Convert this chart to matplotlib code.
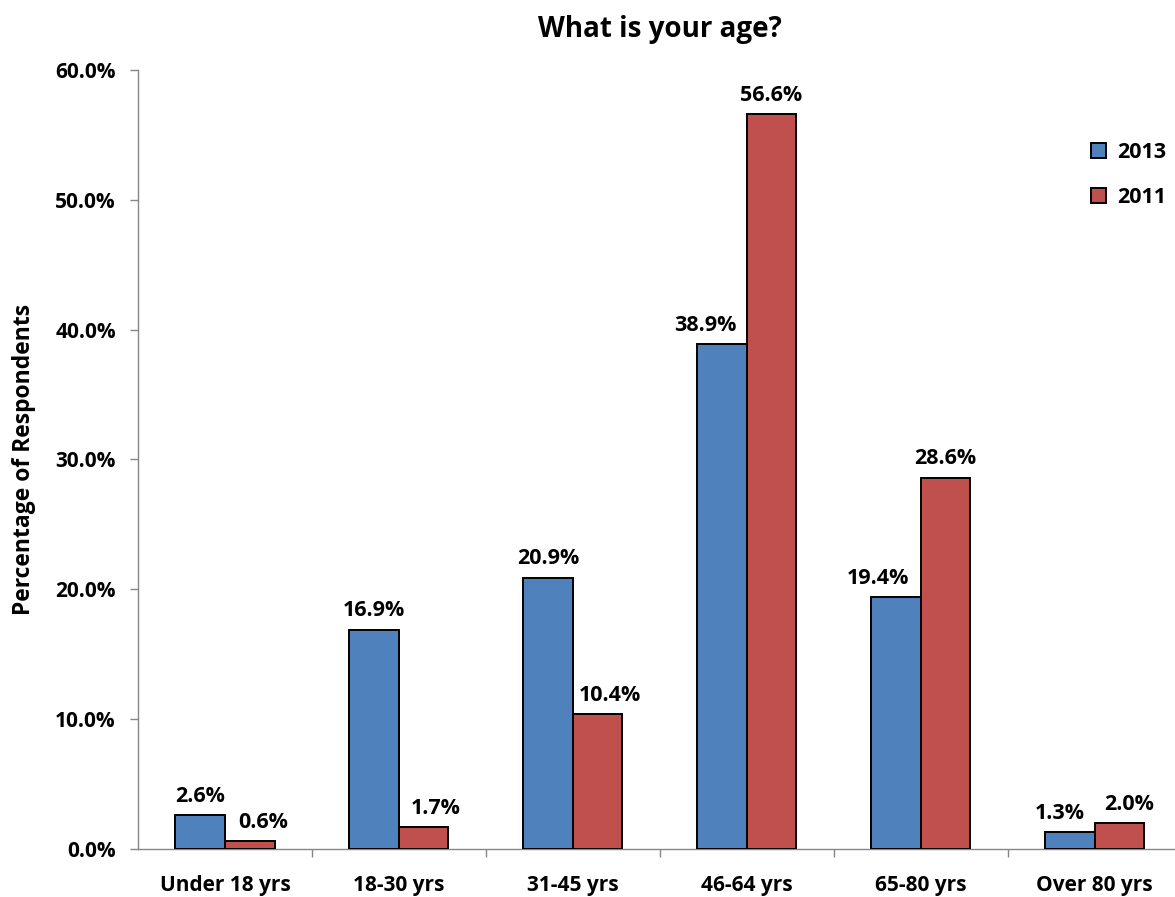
import matplotlib.pyplot as plt
import numpy as np
from matplotlib.ticker import FuncFormatter

plt.rcParams['font.family'] = ['Open Sans', 'DejaVu Sans']
plt.rcParams['font.weight'] = 'bold'

ages = ['Under 18 yrs', '18-30 yrs', '31-45 yrs', '46-64 yrs', '65-80 yrs', 'Over 80 yrs']
pct_2013 = [2.6, 16.9, 20.9, 38.9, 19.4, 1.3]
pct_2011 = [0.6, 1.7, 10.4, 56.6, 28.6, 2.0]

# sideways nudges (points) so neighbouring labels don't collide
shift_2013 = [0, 0, 0, -12, -13, -7]
shift_2011 = [10, 9, 9, 0, 0, 7]

fig = plt.figure(figsize=(11.75, 8.97), dpi=100)
ax = fig.add_axes([0.1175, 0.0535, 0.888, 0.8685])

x = np.arange(len(ages))
w = 0.285
b1 = ax.bar(x - w / 2, pct_2013, w, color='#4F81BD', edgecolor='black', linewidth=1.4, label='2013', zorder=3)
b2 = ax.bar(x + w / 2, pct_2011, w, color='#C0504D', edgecolor='black', linewidth=1.4, label='2011', zorder=3)

for bars, vals, shifts in [(b1, pct_2013, shift_2013), (b2, pct_2011, shift_2011)]:
    for rect, v, dx in zip(bars, vals, shifts):
        ax.annotate(f'{v:.1f}%', (rect.get_x() + rect.get_width() / 2, v),
                    xytext=(dx, 6), textcoords='offset points', ha='center', va='bottom',
                    fontsize=15.5, fontweight='bold')

ax.set_xlim(-0.5, len(ages) - 0.5)
ax.set_ylim(0, 60)
ax.set_yticks(np.arange(0, 61, 10))
ax.yaxis.set_major_formatter(FuncFormatter(lambda v, p: f'{v:.1f}%'))

# category labels in the middle, ticks on the group boundaries
ax.set_xticks(x)
ax.set_xticklabels(ages)
ax.set_xticks(np.arange(0.5, len(ages) - 0.5, 1), minor=True)
ax.tick_params(axis='x', which='major', length=0, pad=19, labelsize=15)
ax.tick_params(axis='x', which='minor', length=6, color='#868686', width=1)
ax.tick_params(axis='y', length=6, color='#868686', width=1, labelsize=15, pad=10)

for s in ['top', 'right']:
    ax.spines[s].set_visible(False)
for s in ['left', 'bottom']:
    ax.spines[s].set_color('#868686')
    ax.spines[s].set_linewidth(1)

ax.set_ylabel('Percentage of Respondents', fontsize=16.5, fontweight='bold', labelpad=14)
ax.set_title('What is your age?', fontsize=20, fontweight='bold', pad=24)

leg = ax.legend(loc='upper right', bbox_to_anchor=(1.004, 0.932), frameon=False, fontsize=15.5,
                handlelength=0.7, handleheight=0.7, labelspacing=1.1, handletextpad=0.5)

fig.savefig('out.png', dpi=100)
